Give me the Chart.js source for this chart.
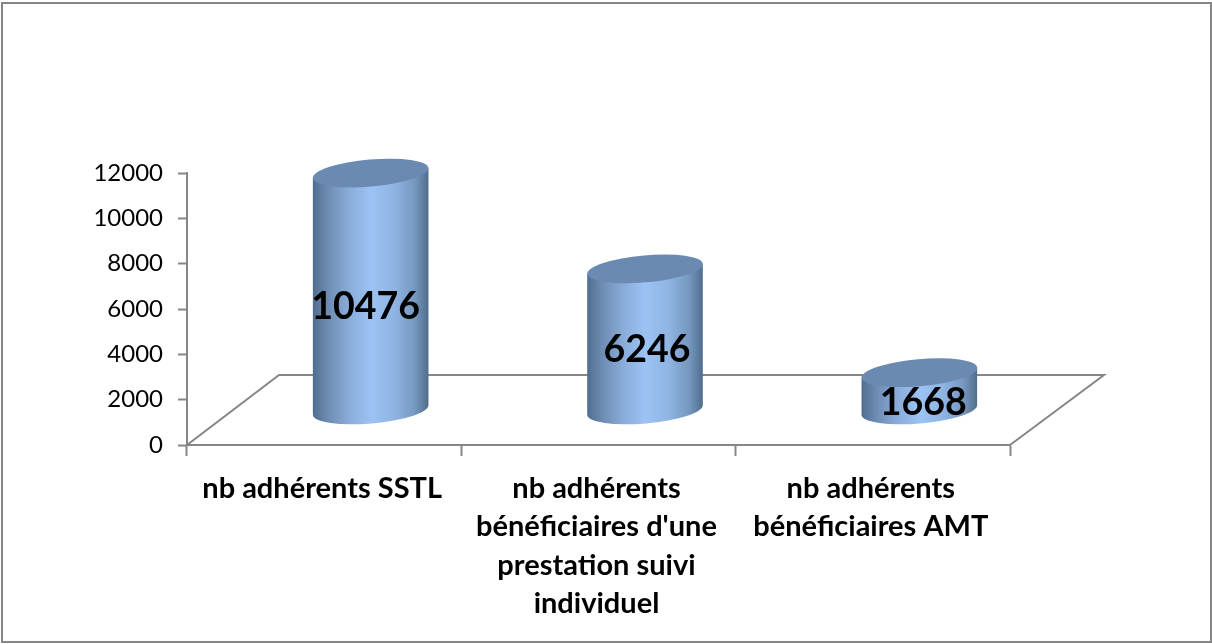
<!DOCTYPE html>
<html><head><meta charset="utf-8">
<script src="https://cdn.jsdelivr.net/npm/chart.js@4"></script>
<style>html,body{margin:0;padding:0;background:#fff}canvas{display:block}</style>
</head><body><canvas id="c" width="1212" height="644"></canvas>
<script>
const categories = [["nb adhérents SSTL"],["nb adhérents","bénéficiaires d'une","prestation suivi","individuel"],["nb adhérents","bénéficiaires AMT"]];
const values = [10476, 6246, 1668];
const yTicks = [0,2000,4000,6000,8000,10000,12000];

const GREY = '#868686';
const DEPTH_X = 93, DEPTH_Y = 69;
const ROT = -5*Math.PI/180, RY = 13.5;
const LABEL_SHIFT = [[-5,15],[2,10],[4,12]];

const cylinders = {
  id:'cylinders',
  beforeDraw(chart){
    const c = chart.ctx;
    c.save(); c.strokeStyle=GREY; c.lineWidth=2;
    c.strokeRect(2,3,1209,639); c.restore();
  },
  beforeDatasetsDraw(chart){
    const {ctx:c, chartArea:a} = chart;
    c.save(); c.strokeStyle=GREY; c.lineWidth=2; c.lineJoin='miter';
    c.beginPath();
    c.moveTo(a.left,a.bottom);
    c.lineTo(a.left+DEPTH_X-1,a.bottom-DEPTH_Y-1);
    c.lineTo(a.right+DEPTH_X+1,a.bottom-DEPTH_Y-1);
    c.lineTo(a.right,a.bottom);
    c.stroke(); c.restore();
  },
  afterDatasetsDraw(chart){
    const c = chart.ctx, meta = chart.getDatasetMeta(0);
    meta.data.forEach((bar,i)=>{
      const cx = bar.x + DEPTH_X/2, rx = bar.width/2;
      const topY = bar.y - DEPTH_Y/2, botY = bar.base - DEPTH_Y/2;
      const dx = rx*Math.cos(ROT), dy = rx*Math.sin(ROT);
      const g = c.createLinearGradient(cx-rx,0,cx+rx,0);
      g.addColorStop(0,'#4f6d90');
      g.addColorStop(0.12,'#6c8ab0');
      g.addColorStop(0.3,'#88aad6');
      g.addColorStop(0.5,'#9cc3f5');
      g.addColorStop(0.7,'#90b5e3');
      g.addColorStop(0.88,'#7698c0');
      g.addColorStop(1,'#506c8c');
      c.save();
      c.fillStyle = g;
      c.beginPath();
      c.moveTo(cx-dx,topY-dy);
      c.ellipse(cx,botY,rx,RY,ROT,Math.PI,0,true);
      c.lineTo(cx+dx,topY+dy);
      c.closePath(); c.fill();
      c.fillStyle = '#6a8ab2';
      c.beginPath();
      c.ellipse(cx,topY,rx,RY,ROT,0,2*Math.PI);
      c.fill();
      c.fillStyle='#000';
      c.font='bold 37.5px Lato';
      c.textAlign='center'; c.textBaseline='middle';
      c.fillText(String(values[i]),cx+LABEL_SHIFT[i][0],(topY+botY)/2+LABEL_SHIFT[i][1]);
      c.restore();
    });
  }
};

new Chart(document.getElementById('c'),{
  type:'bar',
  data:{labels:categories,datasets:[{data:values,backgroundColor:'rgba(0,0,0,0)',borderWidth:0,categoryPercentage:1,barPercentage:0.423}]},
  options:{
    responsive:false,animation:false,
    layout:{padding:{left:0,right:202,top:173,bottom:0},autoPadding:false},
    plugins:{legend:{display:false},tooltip:{enabled:false},title:{display:false}},
    scales:{
      x:{
        afterFit(s){s.height=199;},
        grid:{display:true,drawOnChartArea:false,drawTicks:true,tickLength:11,tickWidth:2,tickColor:GREY,offset:true},
        border:{display:true,color:GREY,width:2},
        ticks:{color:'#000',maxRotation:0,minRotation:0,autoSkip:false,padding:13,labelOffset:-2,font:{family:'Lato',size:29,weight:'bold',lineHeight:1.33}}
      },
      y:{
        min:0,max:12000,
        afterFit(s){s.width=187;},
        afterBuildTicks(s){s.ticks=yTicks.map(v=>({value:v}));},
        grid:{display:true,drawOnChartArea:false,drawTicks:true,tickLength:9,tickWidth:2,tickColor:GREY},
        border:{display:true,color:GREY,width:2},
        ticks:{color:'#000',padding:15,font:{family:'Lato',size:24},callback:v=>String(v)}
      }
    }
  },
  plugins:[cylinders]
});
</script></body></html>
